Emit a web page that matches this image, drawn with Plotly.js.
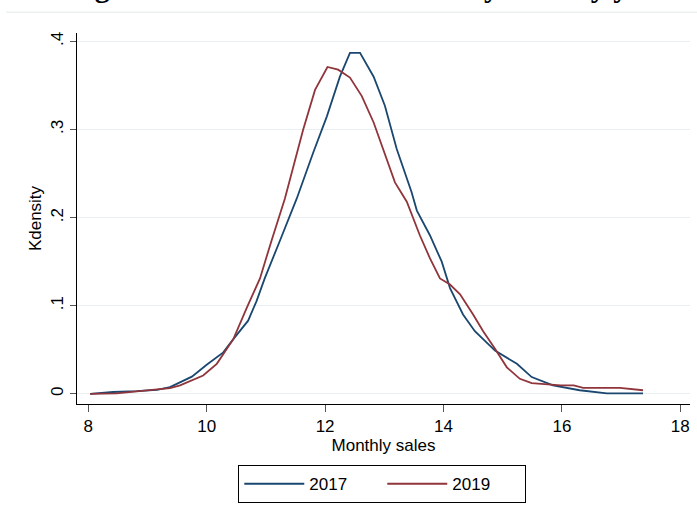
<!DOCTYPE html>
<html>
<head>
<meta charset="utf-8">
<script src="https://cdn.plot.ly/plotly-3.0.1.min.js"></script>
<style>html,body{margin:0;padding:0;background:#fff;}#chart{width:697px;height:510px;}</style>
</head>
<body>
<div id="chart"></div>
<script>
// Kernel density curves
const x2017 = [8.03, 8.42, 8.82, 9.16, 9.38, 9.75, 10.0, 10.28, 10.45, 10.7, 10.84, 10.98, 11.25, 11.52, 11.8, 12.03, 12.25, 12.42, 12.59, 12.82, 13.01, 13.21, 13.46, 13.55, 13.77, 13.97, 14.11, 14.33, 14.53, 14.87, 15.24, 15.49, 15.85, 16.3, 16.76, 17.37];
const y2017 = [0, 0.002, 0.003, 0.0045, 0.0075, 0.0195, 0.033, 0.047, 0.062, 0.083, 0.105, 0.131, 0.176, 0.2215, 0.274, 0.315, 0.360, 0.387, 0.387, 0.360, 0.327, 0.278, 0.229, 0.208, 0.18, 0.150, 0.120, 0.090, 0.071, 0.049, 0.034, 0.019, 0.0095, 0.004, 0.0005, 0.0005];
const x2019 = [8.03, 8.48, 8.99, 9.38, 9.55, 9.94, 10.17, 10.45, 10.68, 10.9, 11.1, 11.32, 11.63, 11.83, 12.04, 12.22, 12.42, 12.62, 12.82, 12.98, 13.18, 13.38, 13.6, 13.77, 13.94, 14.11, 14.28, 14.5, 14.67, 14.87, 15.07, 15.29, 15.49, 15.98, 16.2, 16.36, 16.98, 17.37];
const y2019 = [0, 0.0005, 0.0038, 0.0064, 0.0095, 0.0207, 0.034, 0.062, 0.098, 0.131, 0.175, 0.2215, 0.300, 0.345, 0.371, 0.368, 0.359, 0.338, 0.308, 0.278, 0.240, 0.218, 0.18, 0.154, 0.131, 0.124, 0.113, 0.090, 0.071, 0.051, 0.030, 0.017, 0.012, 0.0095, 0.0095, 0.0068, 0.0068, 0.004];
const seriesNames = ["2017", "2019"];
const xTickVals = [8, 10, 12, 14, 16, 18];
const yTickVals = [0, 0.1, 0.2, 0.3, 0.4];
const yTickText = ["0", ".1", ".2", ".3", ".4"];
const titleText = "Figure 1: Distribution of Monthly sales by year";

const font = "Liberation Sans, Arial, sans-serif";
const traces = [
  {x: x2017, y: y2017, name: seriesNames[0], type: "scatter", mode: "lines",
   line: {color: "#1a476f", width: 1.8}},
  {x: x2019, y: y2019, name: seriesNames[1], type: "scatter", mode: "lines",
   line: {color: "#90353b", width: 1.8}}
];
const layout = {
  width: 697, height: 510,
  margin: {l: 77, r: 7, t: 33, b: 103, pad: 0},
  paper_bgcolor: "#fff", plot_bgcolor: "#fff",
  font: {family: font, size: 17, color: "#000"},
  showlegend: true,
  legend: {orientation: "h", x: 0.498, xanchor: "center", y: -0.165, yanchor: "top",
    bordercolor: "#000", borderwidth: 1, bgcolor: "#fff",
    font: {family: font, size: 17, color: "#000"}, itemwidth: 60,
    entrywidth: 68, entrywidthmode: "pixels", traceorder: "normal"},
  xaxis: {range: [7.809, 18.164], tickvals: xTickVals, ticks: "outside", ticklen: 7,
    tickcolor: "#555", tickwidth: 1, showline: true, linecolor: "#000", linewidth: 1,
    showgrid: false, zeroline: false, tickfont: {size: 17},
    title: {text: "Monthly sales", font: {size: 17}, standoff: 0}},
  yaxis: {range: [-0.0116, 0.4096], tickvals: yTickVals, ticktext: yTickText, tickangle: -90,
    ticks: "outside", ticklen: 6, tickcolor: "#555", tickwidth: 1,
    showline: true, linecolor: "#000", linewidth: 1,
    showgrid: true, gridcolor: "#e9f0f2", gridwidth: 1.3, zeroline: false, tickfont: {size: 17},
    title: {text: "Kdensity", font: {size: 17}, standoff: 2}},
  annotations: [{
    text: "<b>" + titleText + "</b>", xref: "paper", yref: "paper",
    x: -0.0179, xanchor: "left", y: 1.124, yanchor: "middle", showarrow: false,
    font: {family: "Liberation Serif, Times New Roman, serif", size: 30, color: "#000"}
  }],
  shapes: [{type: "line", xref: "paper", yref: "paper", x0: -0.116, x1: 1.02, y0: 1.0561, y1: 1.0561,
    line: {color: "#e3eaea", width: 1}}]
};
Plotly.newPlot("chart", traces, layout, {displayModeBar: false, staticPlot: true});
</script>
</body>
</html>
